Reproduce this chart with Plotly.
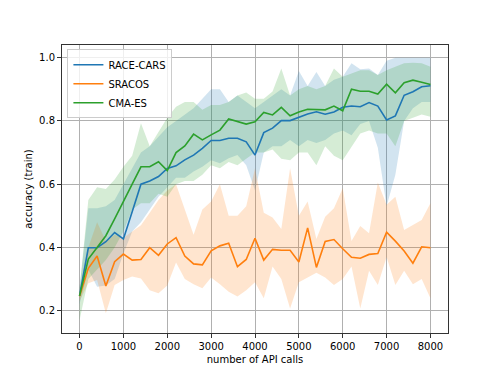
import plotly.graph_objects as go

api_calls = list(range(0, 8001, 200))

race_mean = [0.247, 0.399, 0.399, 0.418, 0.447, 0.427, 0.513, 0.600, 0.610, 0.624,
             0.650, 0.658, 0.677, 0.692, 0.713, 0.738, 0.738, 0.745, 0.745, 0.734,
             0.692, 0.763, 0.777, 0.801, 0.801, 0.811, 0.822, 0.829, 0.821, 0.828,
             0.843, 0.847, 0.845, 0.858, 0.847, 0.803, 0.816, 0.881, 0.892, 0.908, 0.911]
race_lo = [0.22, 0.33, 0.276, 0.28, 0.30, 0.38, 0.45, 0.48, 0.52, 0.56,
           0.59, 0.62, 0.62, 0.64, 0.655, 0.676, 0.666, 0.682, 0.692, 0.66,
           0.58, 0.70, 0.72, 0.72, 0.74, 0.72, 0.74, 0.73, 0.74, 0.76,
           0.77, 0.755, 0.79, 0.80, 0.715, 0.53, 0.63, 0.80, 0.84, 0.86, 0.86]
race_hi = [0.27, 0.524, 0.524, 0.53, 0.55, 0.60, 0.65, 0.70, 0.72, 0.75,
           0.78, 0.80, 0.82, 0.84, 0.87, 0.90, 0.90, 0.86, 0.88, 0.86,
           0.84, 0.86, 0.88, 0.90, 0.88, 0.958, 0.91, 0.955, 0.91, 0.93,
           0.94, 0.982, 0.963, 0.966, 0.945, 0.99, 1.0, 1.0, 1.0, 1.0, 1.0]

sracos_mean = [0.246, 0.334, 0.373, 0.278, 0.355, 0.379, 0.360, 0.362, 0.399, 0.375,
               0.411, 0.431, 0.373, 0.348, 0.345, 0.389, 0.405, 0.413, 0.339, 0.362,
               0.429, 0.360, 0.394, 0.391, 0.391, 0.354, 0.462, 0.337, 0.419, 0.425,
               0.396, 0.369, 0.366, 0.378, 0.381, 0.448, 0.420, 0.389, 0.350, 0.402, 0.399]
sracos_lo = [0.23, 0.287, 0.297, 0.192, 0.281, 0.297, 0.308, 0.302, 0.265, 0.255,
             0.28, 0.352, 0.30, 0.284, 0.271, 0.305, 0.284, 0.26, 0.245, 0.265,
             0.29, 0.239, 0.34, 0.30, 0.207, 0.29, 0.305, 0.32, 0.305, 0.281,
             0.30, 0.34, 0.207, 0.326, 0.281, 0.37, 0.281, 0.326, 0.284, 0.30, 0.239]
sracos_hi = [0.26, 0.40, 0.48, 0.42, 0.44, 0.43, 0.45, 0.47, 0.51, 0.55,
             0.58, 0.60, 0.52, 0.44, 0.52, 0.545, 0.60, 0.50, 0.50, 0.53,
             0.65, 0.51, 0.495, 0.458, 0.65, 0.50, 0.545, 0.427, 0.497, 0.524,
             0.587, 0.42, 0.468, 0.445, 0.605, 0.535, 0.56, 0.455, 0.471, 0.487, 0.540]

cma_mean = [0.247, 0.363, 0.400, 0.437, 0.490, 0.547, 0.600, 0.655, 0.655, 0.671,
            0.643, 0.700, 0.721, 0.758, 0.740, 0.756, 0.771, 0.806, 0.798, 0.790,
            0.797, 0.827, 0.819, 0.843, 0.816, 0.828, 0.837, 0.835, 0.835, 0.847,
            0.832, 0.900, 0.894, 0.894, 0.885, 0.916, 0.889, 0.921, 0.929, 0.922, 0.915]
cma_lo = [0.17, 0.30, 0.33, 0.36, 0.40, 0.45, 0.52, 0.54, 0.54, 0.57,
          0.56, 0.60, 0.61, 0.61, 0.63, 0.66, 0.65, 0.67, 0.66, 0.68,
          0.70, 0.70, 0.71, 0.68, 0.676, 0.70, 0.70, 0.66, 0.72, 0.69,
          0.676, 0.72, 0.76, 0.77, 0.76, 0.76, 0.72, 0.80, 0.81, 0.82, 0.813]
cma_hi = [0.27, 0.55, 0.59, 0.585, 0.615, 0.655, 0.69, 0.793, 0.72, 0.765,
          0.81, 0.845, 0.86, 0.86, 0.835, 0.85, 0.85, 0.86, 0.88, 0.89,
          0.87, 0.87, 0.893, 0.966, 0.88, 0.90, 0.91, 0.90, 0.91, 0.966,
          0.94, 0.95, 0.96, 0.96, 0.945, 0.96, 0.972, 0.982, 0.984, 0.982, 0.971]

x_ticks = [0, 1000, 2000, 3000, 4000, 5000, 6000, 7000, 8000]
y_ticks = [0.2, 0.4, 0.6, 0.8, 1.0]

series = [
    ("RACE-CARS", race_mean, race_lo, race_hi, "#1f77b4", "rgba(31,119,180,0.2)"),
    ("SRACOS", sracos_mean, sracos_lo, sracos_hi, "#ff7f0e", "rgba(255,127,14,0.2)"),
    ("CMA-ES", cma_mean, cma_lo, cma_hi, "#2ca02c", "rgba(44,160,44,0.2)"),
]

fig = go.Figure()
for name, m, lo, hi, col, fcol in series:
    fig.add_trace(go.Scatter(
        x=api_calls + api_calls[::-1], y=hi + lo[::-1],
        fill="toself", fillcolor=fcol, line=dict(width=0),
        mode="lines", hoverinfo="skip", showlegend=False))
for name, m, lo, hi, col, fcol in series:
    fig.add_trace(go.Scatter(
        x=api_calls, y=m, mode="lines", name=name,
        line=dict(color=col, width=1.6)))

font = dict(family="DejaVu Sans", size=10, color="black")
# the page body adds an 8px margin, so the figure is 8px smaller and offset
fig.update_layout(
    width=490, height=366,
    margin=dict(l=54, r=50, t=37, b=41, autoexpand=False),
    paper_bgcolor="white", plot_bgcolor="white",
    font=font,
    showlegend=True,
    legend=dict(x=0.014, y=0.985, xanchor="left", yanchor="top",
                bgcolor="rgba(255,255,255,0.8)", bordercolor="#cccccc",
                borderwidth=1, font=dict(family="DejaVu Sans", size=10),
                tracegroupgap=0, itemwidth=30),
)
fig.update_xaxes(
    range=[-400, 8400], tickvals=x_ticks, ticktext=[str(v) for v in x_ticks],
    showgrid=True, gridcolor="#b0b0b0", gridwidth=0.9, automargin=False,
    showline=True, linecolor="#333333", linewidth=1, mirror=True,
    ticks="outside", ticklen=4, tickcolor="#333333", zeroline=False,
    title=dict(text="number of API calls", standoff=4, font=font),
)
fig.update_yaxes(
    range=[0.1295, 1.040], tickvals=y_ticks, ticktext=["%.1f" % v for v in y_ticks],
    showgrid=True, gridcolor="#b0b0b0", gridwidth=0.9, automargin=False,
    showline=True, linecolor="#333333", linewidth=1, mirror=True,
    ticks="outside", ticklen=4, tickcolor="#333333", zeroline=False,
    title=dict(text="accuracy (train)", standoff=4, font=font),
)
fig.write_html("out.html")
